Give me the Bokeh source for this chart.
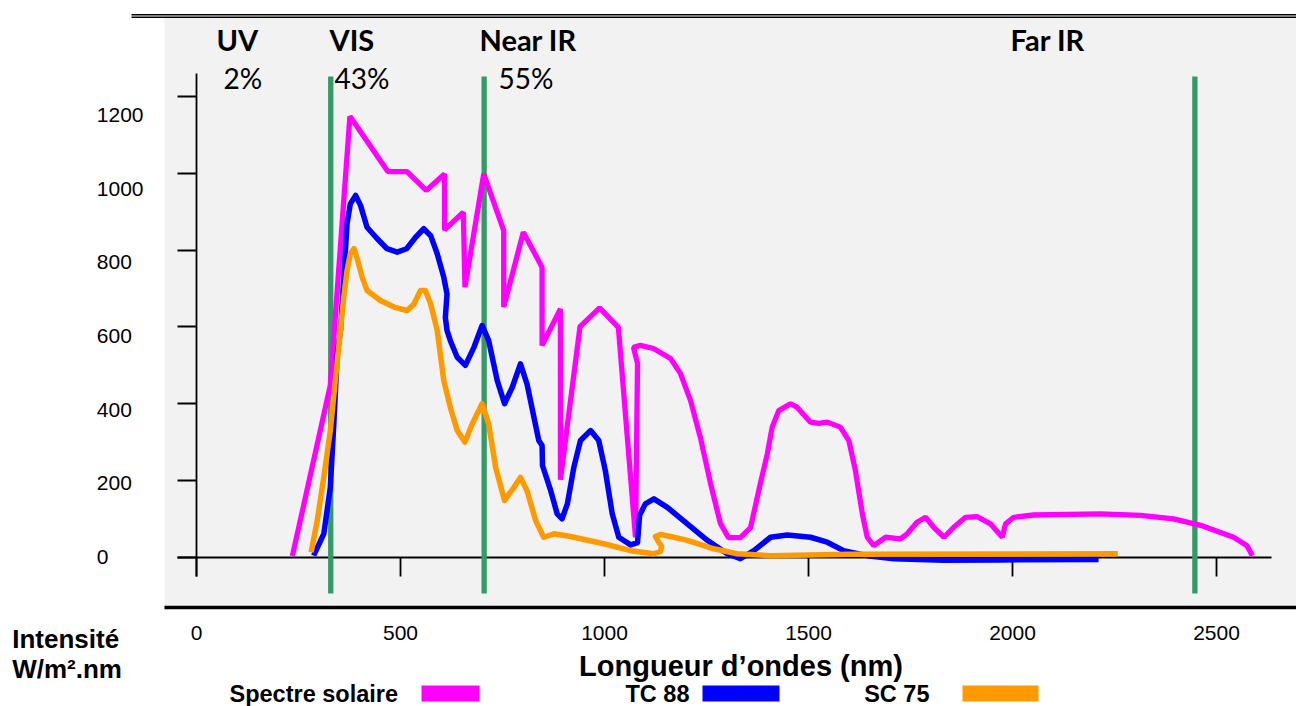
from bokeh.plotting import figure
from bokeh.models import Range1d, LinearAxis, FixedTicker, Label, BoxAnnotation
from bokeh.core.properties import value
from bokeh.embed import file_html
from bokeh.resources import INLINE

# ---------------- data (wavelength in nm, intensity in W/m².nm) ----------------
solar_nm = [235, 328, 376, 469, 516, 563, 608, 608, 654, 658, 704, 753, 753, 801, 847,
            847, 892, 892, 940, 988, 1034, 1076, 1081, 1071, 1088, 1120, 1162, 1186, 1211,
            1235, 1260, 1284, 1304, 1333, 1358, 1382, 1399, 1411, 1427, 1456, 1472, 1505,
            1525, 1546, 1578, 1599, 1615, 1632, 1644, 1660, 1689, 1725, 1742, 1766, 1787,
            1807, 1832, 1856, 1885, 1913, 1946, 1975, 1983, 2003, 2052, 2216, 2314, 2395,
            2461, 2542, 2575, 2588]
solar_val = [3, 448, 1149, 1005, 1005, 956, 999, 853, 899, 704, 999, 851, 652, 847, 756,
             552, 647, 202, 601, 650, 599, 52, 505, 547, 552, 544, 518, 479, 408,
             312, 192, 88, 51, 51, 77, 192, 269, 339, 382, 400, 391, 352,
             349, 352, 339, 304, 226, 113, 52, 30, 52, 48, 61, 91, 104,
             78, 52, 78, 104, 106, 87, 52, 87, 104, 110, 113, 109, 100,
             83, 52, 30, 4]

tc88_nm = [287, 312, 328, 337, 345, 353, 361, 369, 377, 390, 402, 418, 443, 467, 492,
           515, 537, 557, 574, 590, 606, 614, 610, 614, 622, 639, 659, 680, 700, 716,
           737, 755, 774, 794, 810, 827, 839, 847, 848, 868, 884, 896, 909, 925, 941,
           966, 986, 1002, 1019, 1035, 1064, 1081, 1086, 1100, 1121, 1154, 1203, 1252,
           1301, 1333, 1366, 1407, 1448, 1505, 1546, 1586, 1644, 1709, 1832, 1975, 2211]
tc88_val = [4, 61, 182, 356, 530, 591, 730, 869, 921, 943, 917, 860, 830, 804, 795,
            804, 834, 856, 838, 791, 730, 686, 625, 591, 565, 521, 500, 547, 604, 565,
            461, 400, 443, 504, 452, 365, 304, 291, 239, 174, 113, 100, 139, 235, 304,
            330, 304, 226, 113, 52, 32, 38, 109, 139, 152, 130, 87, 44,
            9, -4, 17, 52, 58, 52, 39, 17, 4, -4, -8, -7, -6]

sc75_nm = [281, 296, 312, 328, 341, 351, 361, 369, 377, 386, 394, 406, 418, 451, 484,
           516, 533, 549, 561, 574, 590, 606, 622, 639, 658, 676, 700, 716, 733, 755,
           778, 794, 810, 831, 851, 876, 917, 998, 1064, 1121, 1137, 1140, 1130, 1125,
           1137, 1162, 1203, 1268, 1325, 1407, 1600, 2258]
sc75_val = [13, 96, 208, 330, 469, 573, 678, 747, 791, 804, 778, 730, 695, 669, 652,
            643, 660, 695, 695, 660, 591, 461, 391, 330, 300, 348, 400, 348, 235, 148,
            182, 208, 174, 96, 52, 61, 54, 35, 17, 9, 15, 28, 44, 54,
            59, 54, 44, 22, 9, 4, 8, 9]

boundaries_nm = [329, 705, 2447]
region_names = ["UV", "VIS", "Near IR", "Far IR"]
region_shares = ["2%", "43%", "55%"]
series_names = ["Spectre solaire", "TC 88", "SC 75"]
x_ticks = [0, 500, 1000, 1500, 2000, 2500]
y_ticks = [0, 200, 400, 600, 800, 1000, 1200]

# ---------------- layout / style ----------------
W, H = 1296, 706
X0, X1 = -480.39, 2696.08      # x range spanning the whole canvas
Y0, Y1 = -389.14, 1450.99      # y range spanning the whole canvas
LY0, LY1 = -407.42, 1510.17    # range used for the y tick-label column


def sx(px):  # canvas pixel -> x data
    return X0 + (X1 - X0) * px / W


def sy(py):  # canvas pixel -> y data
    return Y1 - (Y1 - Y0) * py / H


MAGENTA, BLUE, ORANGE, GREEN = "#ff00ff", "#0000ff", "#ff9900", "#369a66"
series_colors = [MAGENTA, BLUE, ORANGE]
NUM_FONT = "Liberation Sans"

p = figure(width=W, height=H, x_range=Range1d(X0, X1), y_range=Range1d(Y0, Y1),
           x_axis_type=None, y_axis_type=None,
           output_backend="svg", toolbar_location=None, min_border=0,
           background_fill_color="white", border_fill_color="white",
           outline_line_color=None)
p.title.visible = False
p.extra_y_ranges = {"lab": Range1d(LY0, LY1)}

# grey plotting panel
p.add_layout(BoxAnnotation(left=sx(164), right=sx(W), bottom=sy(606), top=sy(17.5),
                           fill_color="#f2f2f2", fill_alpha=1, line_color=None,
                           level="image"))
# double rule on top
for t, b in [(13.6, 15.0), (16.0, 17.4)]:
    p.add_layout(BoxAnnotation(left=sx(131), right=sx(W), top=sy(t), bottom=sy(b),
                               fill_color="black", fill_alpha=1, line_color=None,
                               level="image"))

# y tick labels column
pad = "\u2007"
ylab = LinearAxis(y_range_name="lab", fixed_location=sx(164), ticker=FixedTicker(ticks=y_ticks),
                  axis_line_color=None, major_tick_line_color=None,
                  minor_tick_line_color=None, major_tick_out=0, major_tick_in=0,
                  major_label_standoff=21,
                  major_label_text_font=NUM_FONT, major_label_text_font_size="21px",
                  major_label_text_color="black",
                  major_label_overrides={t: str(t) + pad * (4 - len(str(t))) for t in y_ticks})
ylab.level = "underlay"
p.add_layout(ylab, "left")

# y axis at x = 0
yax = LinearAxis(fixed_location=0, ticker=FixedTicker(ticks=y_ticks), bounds=(sy(575.7), sy(73.3)),
                 axis_line_width=1.8, axis_line_color="black",
                 major_tick_line_width=1.8, major_tick_line_color="black",
                 major_tick_out=19, major_tick_in=0, minor_tick_line_color=None,
                 major_label_overrides={t: "" for t in y_ticks})
yax.level = "underlay"
p.add_layout(yax, "left")

# x axis at y = 0
xax = LinearAxis(fixed_location=0, ticker=FixedTicker(ticks=x_ticks), bounds=(sx(177), sx(1271)),
                 axis_line_width=1.8, axis_line_color="black",
                 major_tick_line_width=1.8, major_tick_line_color="black",
                 major_tick_out=19, major_tick_in=0, minor_tick_line_color=None,
                 major_label_overrides={t: "" for t in x_ticks})
xax.level = "underlay"
p.add_layout(xax, "below")

# thick bottom rule carrying the x tick labels
xlab = LinearAxis(fixed_location=sy(606.7), ticker=FixedTicker(ticks=x_ticks),
                  bounds=(sx(164), sx(W)),
                  axis_line_width=3.5, axis_line_color="black",
                  major_tick_line_color=None, minor_tick_line_color=None,
                  major_tick_out=0, major_tick_in=0, major_label_standoff=19,
                  major_label_text_font=NUM_FONT, major_label_text_font_size="21px",
                  major_label_text_color="black")
xlab.level = "underlay"
p.add_layout(xlab, "below")

# region boundaries
p.segment(x0=boundaries_nm, y0=[sy(593)] * len(boundaries_nm),
          x1=boundaries_nm, y1=[sy(76)] * len(boundaries_nm),
          line_color=GREEN, line_width=5.3, line_cap="butt")

# curves
p.line(solar_nm, solar_val, line_color=MAGENTA, line_width=5.3, line_join="bevel")
p.line(tc88_nm, tc88_val, line_color=BLUE, line_width=5.5, line_join="round")
p.line(sc75_nm, sc75_val, line_color=ORANGE, line_width=5.5, line_join="round")

# region headers and shares
p.text(x=[sx(216), sx(329), sx(479), sx(1010)], y=[sy(38.5)] * len(region_names),
       text=region_names, text_font=value("Lato"), text_font_size="29px",
       text_font_style="bold", text_color="black", text_align="left",
       text_baseline="alphabetic")
p.text(x=[sx(223), sx(334), sx(498)], y=[sy(77.5)] * len(region_shares),
       text=region_shares, text_font=value("Lato"), text_font_size="28px",
       text_color="black", text_align="left", text_baseline="alphabetic")

# axis captions
p.add_layout(Label(x=sx(740.5), y=sy(665), text="Longueur d\u2019ondes (nm)",
                   text_font=NUM_FONT, text_font_size="29px", text_font_style="bold",
                   text_color="black", text_align="center", text_baseline="alphabetic"))
for txt, base in [("Intensit\u00e9", 638.5), ("W/m\u00b2.nm", 668.5)]:
    p.add_layout(Label(x=sx(11.7), y=sy(base), text=txt, text_font=NUM_FONT,
                       text_font_size="26px", text_font_style="bold", text_color="black",
                       text_align="left", text_baseline="alphabetic"))

# legend row: name, then colour swatch
legend_text_right = [397.5, 689, 929]
swatch_left = [421, 702, 962]
swatch_right = [479, 779, 1038]
for name, col, tr, l, r in zip(series_names, series_colors, legend_text_right,
                               swatch_left, swatch_right):
    p.add_layout(Label(x=sx(tr), y=sy(693), text=name, text_font=NUM_FONT,
                       text_font_size="23.5px", text_font_style="bold", text_color="black",
                       text_align="right", text_baseline="alphabetic"))
    p.add_layout(BoxAnnotation(left=sx(l), right=sx(r), top=sy(685), bottom=sy(701),
                               fill_color=col, fill_alpha=1, line_color=None))

open("out.html", "w").write(file_html(p, INLINE))
